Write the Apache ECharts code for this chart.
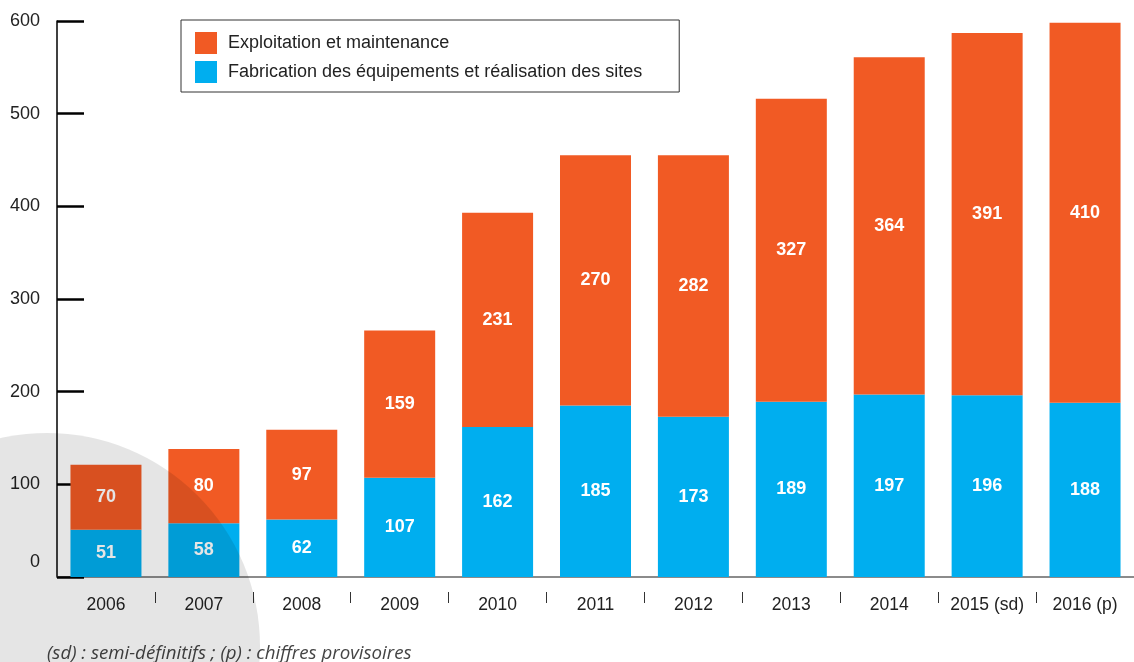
<!DOCTYPE html>
<html>
<head>
<meta charset="utf-8">
<script src="https://cdn.jsdelivr.net/npm/echarts@6/dist/echarts.min.js"></script>
<style>
  html, body { margin: 0; padding: 0; background: #fff; }
  #chart { width: 1134px; height: 662px; }
</style>
</head>
<body>
<div id="chart"></div>
<script>
const years = ['2006', '2007', '2008', '2009', '2010', '2011', '2012', '2013', '2014', '2015 (sd)', '2016 (p)']
const fabrication = [51, 58, 62, 107, 162, 185, 173, 189, 197, 196, 188]
const exploitation = [70, 80, 97, 159, 231, 270, 282, 327, 364, 391, 410]
const yTicks = [0, 100, 200, 300, 400, 500, 600]

const FONT = '"Liberation Sans", Arial, Helvetica, sans-serif'
const ORANGE = '#f15a24'
const BLUE = '#00aeef'

const valueLabel = {
  show: true,
  position: 'inside',
  color: '#fff',
  fontFamily: FONT,
  fontWeight: 'bold',
  fontSize: 18
}

const options = {
  animation: false,
  title: {
    text: '(sd) : semi-définitifs ; (p) : chiffres provisoires',
    left: 47,
    top: 644,
    padding: 0,
    textStyle: {
      fontFamily: '"Open Sans", sans-serif',
      fontStyle: 'italic',
      fontWeight: 'normal',
      fontSize: 18.7,
      color: '#444'
    }
  },
  legend: {
    data: ['Exploitation et maintenance', 'Fabrication des équipements et réalisation des sites'],
    orient: 'vertical',
    left: 181,
    top: 20,
    icon: 'rect',
    itemWidth: 22,
    itemHeight: 22,
    itemGap: 7,
    padding: [12, 37, 9, 14],
    borderColor: '#333',
    borderWidth: 1,
    selectedMode: false,
    textStyle: {
      fontFamily: FONT,
      fontSize: 18,
      color: '#222',
      padding: [0, 0, 0, 6]
    }
  },
  grid: {
    left: 57,
    right: -7,
    top: 21,
    bottom: 85,
    containLabel: false
  },
  xAxis: [
    {
      type: 'category',
      data: years,
      axisLine: { lineStyle: { color: '#666', width: 1.5 } },
      axisTick: { show: false },
      axisLabel: {
        margin: 19,
        fontFamily: FONT,
        fontSize: 17.5,
        color: '#222'
      }
    },
    {
      // separator ticks under the axis
      type: 'category',
      data: years,
      position: 'bottom',
      offset: 15,
      axisLine: { show: false },
      axisLabel: { show: false },
      axisTick: {
        show: true,
        length: 11,
        interval: function (index) { return index !== 0 },
        lineStyle: { color: '#333', width: 1 }
      }
    }
  ],
  yAxis: {
    type: 'value',
    min: 0,
    max: 600,
    interval: 100,
    splitLine: { show: false },
    axisLine: { show: true, lineStyle: { color: '#000', width: 1.5 } },
    axisTick: {
      show: true,
      inside: true,
      length: 27,
      lineStyle: { color: '#000', width: 2.5 }
    },
    axisLabel: {
      margin: 17,
      fontFamily: FONT,
      fontSize: 18,
      color: '#222',
      formatter: function (v) {
        return v === yTicks[0] ? '{z|' + v + '}' : '' + v
      },
      rich: {
        z: { fontFamily: FONT, fontSize: 18, color: '#222', padding: [0, 0, 30, 0] }
      }
    }
  },
  series: [
    {
      name: 'Fabrication des équipements et réalisation des sites',
      type: 'bar',
      stack: 'total',
      barWidth: 71,
      color: BLUE,
      label: valueLabel,
      data: fabrication
    },
    {
      name: 'Exploitation et maintenance',
      type: 'bar',
      stack: 'total',
      barWidth: 71,
      color: ORANGE,
      label: valueLabel,
      data: exploitation
    }
  ],
  graphic: [
    {
      // decorative grey disc in the lower left corner
      type: 'circle',
      silent: true,
      z: 100,
      shape: { cx: 47, cy: 646, r: 213 },
      style: { fill: 'rgba(0,0,0,0.1)' }
    }
  ]
}

const chart = echarts.init(document.getElementById('chart'))
chart.setOption(options, true)
</script>
</body>
</html>
